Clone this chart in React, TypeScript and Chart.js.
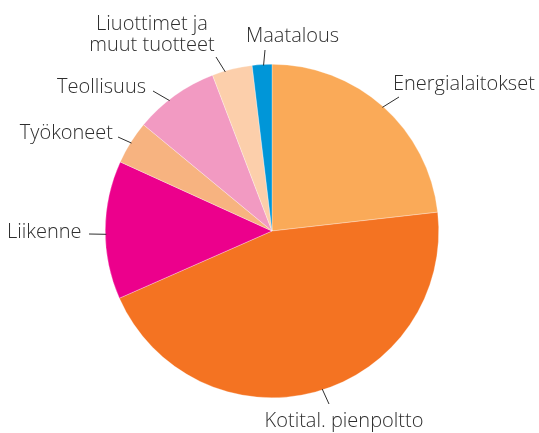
import React, { useEffect, useRef } from "react";
import { Chart, registerables } from "chart.js";

Chart.register(...registerables);

const categories = [
  "Energialaitokset",
  "Kotital. pienpoltto",
  "Liikenne",
  "Työkoneet",
  "Teollisuus",
  "Liuottimet ja muut tuotteet",
  "Maatalous",
];
const values = [23.2, 45.2, 13.4, 4.2, 8.2, 3.9, 1.9];
const colors = ["#FAAA58", "#F47322", "#EC008C", "#F7B380", "#F29AC2", "#FCCFAB", "#0096D8"];

// label text lines (display), per slice
const labelLines: string[][] = [
  ["Energialaitokset"],
  ["Kotital. pienpoltto"],
  ["Liikenne"],
  ["Työkoneet"],
  ["Teollisuus"],
  ["Liuottimet ja", "muut tuotteet"],
  ["Maatalous"],
];

// layout of annotations: text anchor (x, baseline y), alignment, leader outer end, angle tweak (deg)
const labelLayout = [
  { tx: 393, ty: 90, align: "left", lx: 399, ly: 97, da: 0 },
  { tx: 344, ty: 427, align: "center", lx: 329, ly: 404, da: -2.5 },
  { tx: 7, ty: 238, align: "left", lx: 89, ly: 234, da: -1.5 },
  { tx: 113, ty: 139, align: "right", lx: 118, ly: 137, da: 0 },
  { tx: 146, ty: 93, align: "right", lx: 153, ly: 91, da: -2.5 },
  { tx: 152, ty: 30, align: "center", lx: 216, ly: 57, da: -2.5 },
  { tx: 246, ty: 42, align: "left", lx: 265, ly: 50, da: 0.5 },
];

const labelPlugin = {
  id: "leaderLabels",
  afterDraw(chart: any) {
    const ctx = chart.ctx;
    const meta = chart.getDatasetMeta(0);
    ctx.save();
    ctx.font = '300 20px "Open Sans", sans-serif';
    ctx.fillStyle = "#2e2e2e";
    ctx.strokeStyle = "#2e2e2e";
    ctx.lineWidth = 1;
    meta.data.forEach((arc: any, i: number) => {
      const p = arc.getProps(["x", "y", "startAngle", "endAngle", "outerRadius"], true);
      const L = labelLayout[i];
      const mid = (p.startAngle + p.endAngle) / 2 + (L.da * Math.PI) / 180;
      const ix = p.x + Math.cos(mid) * (p.outerRadius - 1);
      const iy = p.y + Math.sin(mid) * (p.outerRadius - 1);
      ctx.beginPath();
      ctx.moveTo(ix, iy);
      ctx.lineTo(L.lx, L.ly);
      ctx.stroke();
      ctx.textAlign = L.align;
      ctx.textBaseline = "alphabetic";
      labelLines[i].forEach((t, k) => {
        ctx.fillText(t, L.tx, L.ty + k * 21);
      });
    });
    ctx.restore();
  },
};

export default function App() {
  const ref = useRef<HTMLCanvasElement>(null);
  useEffect(() => {
    const chart = new Chart(ref.current!, {
      type: "pie",
      data: {
        labels: categories,
        datasets: [
          {
            data: values,
            backgroundColor: colors,
            borderColor: "rgba(255,255,255,0.6)",
            borderWidth: 0.5,
          },
        ],
      },
      options: {
        animation: false,
        responsive: false,
        layout: { padding: { left: 105, right: 100, top: 64, bottom: 35 } },
        plugins: { legend: { display: false }, tooltip: { enabled: false } },
      },
      plugins: [labelPlugin],
    });
    return () => chart.destroy();
  }, []);
  return (
    <div style={{ position: "fixed", left: 0, top: 0, width: 539, height: 433, background: "#fff" }}>
      <canvas ref={ref} width={539} height={433} style={{ width: 539, height: 433 }} />
    </div>
  );
}
